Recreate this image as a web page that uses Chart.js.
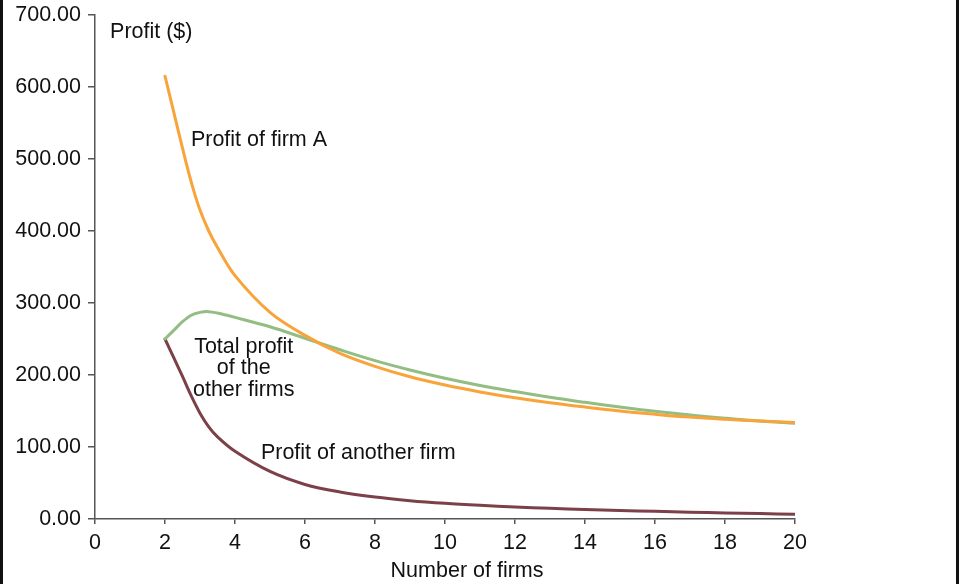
<!DOCTYPE html>
<html>
<head>
<meta charset="utf-8">
<title>Profit and number of firms</title>
<script src="https://cdn.jsdelivr.net/npm/chart.js@4/dist/chart.umd.min.js"></script>
<style>
  html, body { margin: 0; padding: 0; background: #ffffff; }
  #wrap { position: relative; width: 959px; height: 584px; }
</style>
</head>
<body>
<div id="wrap"><canvas id="chart" width="959" height="584"></canvas></div>
<script>
// Number of firms in the market
const firmCounts = [2, 2.25, 2.5, 2.75, 3, 3.25, 3.5, 4, 5, 6, 7, 8, 9, 10, 11, 12, 13, 14, 15, 16, 17, 18, 19, 20];
// Profit ($) of firm A
const profitFirmA = [615, 565, 515, 468, 429, 400, 377, 338, 287, 255, 230, 212, 197.5, 186, 176.5, 168.5, 161.5, 155.5, 150, 145.5, 141.5, 138.5, 136, 134];
// Combined profit ($) of all the other firms
const profitOthersTotal = [250, 262, 274, 283, 287, 288, 286, 280, 267, 251, 235, 220, 207, 195.5, 185.5, 177, 169, 162, 155.5, 149.5, 144.5, 140, 136, 133];
// Profit ($) of one of the other firms
const profitAnotherFirm = [250, 224, 198, 171, 147, 128, 114, 94, 66, 48, 37.5, 30.5, 25.5, 21.8, 19, 16.7, 14.8, 13.2, 11.8, 10.6, 9.5, 8.5, 7.5, 6.6];

const xTicks = [0, 2, 4, 6, 8, 10, 12, 14, 16, 18, 20];
const yTicks = [0, 100, 200, 300, 400, 500, 600, 700];

const FONT = "'Liberation Sans', Arial, Helvetica, sans-serif";
const FONT_SIZE = 21.5;
const AXIS = '#555555';
const INK = '#111111';

const toPoints = values => firmCounts.map((n, i) => ({ x: n, y: values[i] }));

// Curve captions, anchored in data units
const captions = [
  { lines: ['Profit ($)'], x: 0.43, y: 676, align: 'left' },
  { lines: ['Profit of firm A'], x: 2.74, y: 526, align: 'left' },
  { lines: ['Total profit', 'of the', 'other firms'], x: 4.25, y: 209, align: 'center' },
  { lines: ['Profit of another firm'], x: 4.74, y: 91.5, align: 'left' }
];

const captionPlugin = {
  id: 'captions',
  afterDatasetsDraw(chart) {
    const { ctx, scales } = chart;
    ctx.save();
    ctx.fillStyle = INK;
    ctx.font = FONT_SIZE + 'px ' + FONT;
    ctx.textBaseline = 'middle';
    const lh = 21.7;
    captions.forEach(c => {
      const px = scales.x.getPixelForValue(c.x);
      const py = scales.y.getPixelForValue(c.y);
      ctx.textAlign = c.align;
      const start = py - (c.lines.length - 1) * lh / 2;
      c.lines.forEach((t, i) => ctx.fillText(t, px, start + i * lh));
    });
    // horizontal axis title, set a little right of the axis centre
    ctx.textAlign = 'center';
    ctx.fillText('Number of firms', scales.x.getPixelForValue(10.63), scales.x.bottom - 13);
    ctx.restore();
  }
};

// Page frame: dark rules on the left and right edges
const framePlugin = {
  id: 'frame',
  beforeDraw(chart) {
    const { ctx, width, height } = chart;
    ctx.save();
    ctx.fillStyle = '#ffffff';
    ctx.fillRect(0, 0, width, height);
    ctx.restore();
  },
  afterDraw(chart) {
    const { ctx, width, height } = chart;
    ctx.save();
    ctx.fillStyle = INK;
    ctx.fillRect(0, 0, 3, height);
    ctx.fillRect(width - 3, 0, 3, height);
    ctx.restore();
  }
};

new Chart(document.getElementById('chart'), {
  type: 'line',
  data: {
    datasets: [
      {
        label: 'Profit of firm A',
        data: toPoints(profitFirmA),
        borderColor: '#F8A43A',
        borderWidth: 3
      },
      {
        label: 'Total profit of the other firms',
        data: toPoints(profitOthersTotal),
        borderColor: '#92BD83',
        borderWidth: 3
      },
      {
        label: 'Profit of another firm',
        data: toPoints(profitAnotherFirm),
        borderColor: '#7B4048',
        borderWidth: 3
      }
    ]
  },
  options: {
    responsive: false,
    animation: false,
    events: [],
    elements: {
      point: { radius: 0 },
      line: { tension: 0.35, fill: false, capBezierPoints: true, borderCapStyle: 'round', borderJoinStyle: 'round' }
    },
    layout: { padding: { left: 0, top: 15, right: 164, bottom: 0 } },
    plugins: {
      legend: { display: false },
      tooltip: { enabled: false },
      title: { display: false }
    },
    scales: {
      x: {
        type: 'linear',
        min: 0,
        max: 20,
        afterBuildTicks(scale) { scale.ticks = xTicks.map(v => ({ value: v })); },
        afterFit(scale) { scale.height = 65; },
        grid: { drawOnChartArea: false, drawTicks: true, tickLength: 5, color: AXIS, lineWidth: 1.5 },
        border: { display: true, color: AXIS, width: 1.5 },
        ticks: {
          padding: 6,
          color: INK,
          font: { family: FONT, size: FONT_SIZE },
          maxRotation: 0,
          callback: v => String(v)
        },
        title: { display: false }
      },
      y: {
        type: 'linear',
        min: 0,
        max: 700,
        afterBuildTicks(scale) { scale.ticks = yTicks.map(v => ({ value: v })); },
        afterFit(scale) {
          scale.width = 95;
          scale.paddingTop = 0;
          scale.paddingBottom = 0;
        },
        grid: { drawOnChartArea: false, drawTicks: true, tickLength: 7, color: AXIS, lineWidth: 1.5 },
        border: { display: true, color: AXIS, width: 1.5 },
        ticks: {
          padding: 7,
          color: INK,
          font: { family: FONT, size: FONT_SIZE },
          callback: v => Number(v).toFixed(2)
        }
      }
    }
  },
  plugins: [framePlugin, captionPlugin]
});
</script>
</body>
</html>
